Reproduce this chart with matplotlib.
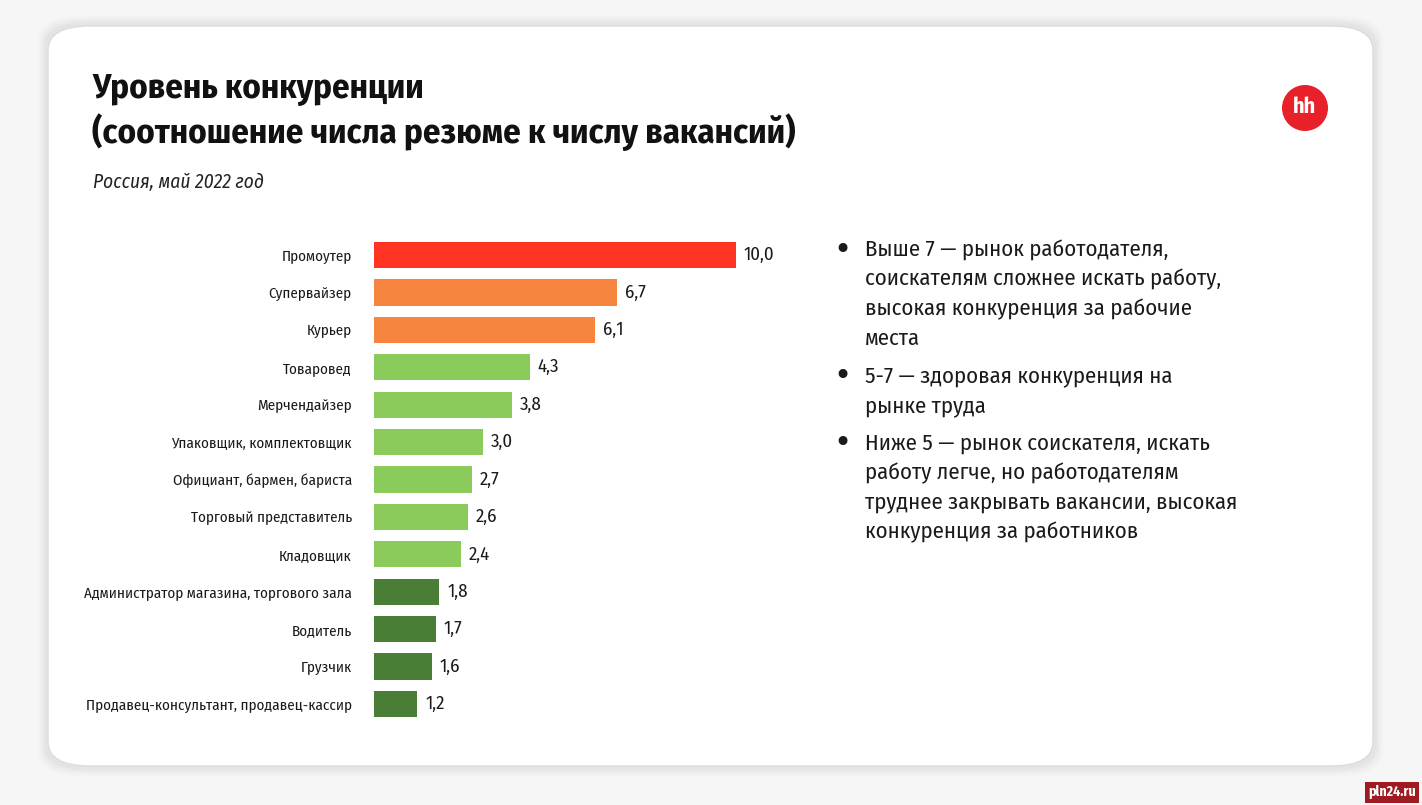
import matplotlib.pyplot as plt
from matplotlib.patches import FancyBboxPatch, Ellipse, Rectangle
from matplotlib import font_manager
from matplotlib.ft2font import FT2Font

# ----------------------------------------------
#    Уровень конкуренции, hh.ru, май 2022
# ----------------------------------------------

categories = ['Промоутер', 'Супервайзер', 'Курьер', 'Товаровед', 'Мерчендайзер',
              'Упаковщик, комплектовщик', 'Официант, бармен, бариста',
              'Торговый представитель', 'Кладовщик',
              'Администратор магазина, торгового зала', 'Водитель', 'Грузчик',
              'Продавец-консультант, продавец-кассир']
values = [10.0, 6.7, 6.1, 4.3, 3.8, 3.0, 2.7, 2.6, 2.4, 1.8, 1.7, 1.6, 1.2]
value_labels = ['10,0', '6,7', '6,1', '4,3', '3,8', '3,0', '2,7', '2,6', '2,4',
                '1,8', '1,7', '1,6', '1,2']
bar_colors = ['#ff3322', '#f5853f', '#f5853f', '#8bcb5b', '#8bcb5b', '#8bcb5b',
              '#8bcb5b', '#8bcb5b', '#8bcb5b', '#4a7e37', '#4a7e37', '#4a7e37',
              '#4a7e37']

bullets = [
    'Выше 7 — рынок работодателя,\nсоискателям сложнее искать работу,\nвысокая конкуренция за рабочие\nместа',
    '5-7 — здоровая конкуренция на\nрынке труда',
    'Ниже 5 — рынок соискателя, искать\nработу легче, но работодателям\nтруднее закрывать вакансии, высокая\nконкуренция за работников',
]


def has_cyrillic(path):
    try:
        return ord('Ж') in FT2Font(path).get_charmap()
    except Exception:
        return False


# узкий шрифт с кириллицей, иначе Roboto
narrow = None
for f in font_manager.fontManager.ttflist:
    if ('Narrow' in f.name or 'Condensed' in f.name) and has_cyrillic(f.fname):
        narrow = f.name
        break
base = narrow or 'Roboto'
plt.rcParams['font.family'] = [base, 'DejaVu Sans']

W, H = 1422, 805
fig = plt.figure(figsize=(W / 100, H / 100), dpi=100)
fig.patch.set_facecolor('#f6f6f6')
renderer = fig.canvas.get_renderer()


def fit(t, width_px, max_size):
    # подгоняем размер шрифта под ширину из картинки
    t.set_fontsize(max_size)
    w = t.get_window_extent(renderer).width
    if w > width_px:
        t.set_fontsize(max_size * width_px / w)
    return t


# card with soft shadow
for i, a in enumerate([0.012, 0.016, 0.02, 0.025]):
    g = 10 - 2 * i
    fig.patches.append(FancyBboxPatch(((48 - g) / W, 1 - (766 + g) / H),
                                      (1325 + 2 * g) / W, (740 + 2 * g) / H,
                                      boxstyle='round,pad=0,rounding_size=0.03',
                                      transform=fig.transFigure, facecolor='black',
                                      alpha=a, edgecolor='none', zorder=0))
fig.patches.append(FancyBboxPatch((48 / W, 1 - 766 / H), 1325 / W, 740 / H,
                                  boxstyle='round,pad=0,rounding_size=0.03',
                                  transform=fig.transFigure, facecolor='white',
                                  edgecolor='#dcdcdc', linewidth=1, zorder=1))

# titles
t1 = fig.text(92 / W, 1 - 89 / H, 'Уровень конкуренции', fontweight='bold',
              va='center', ha='left', color='#111111', zorder=3)
t2 = fig.text(92 / W, 1 - 132 / H, '(соотношение числа резюме к числу вакансий)',
              fontweight='bold', va='center', ha='left', color='#111111', zorder=3)
fit(t2, 705, 26)
t1.set_fontsize(t2.get_fontsize())
t3 = fig.text(93 / W, 1 - 182 / H, 'Россия, май 2022 год', fontstyle='italic',
              va='center', ha='left', color='#222222', zorder=3)
fit(t3, 186, 14)

# hh logo
fig.patches.append(Ellipse((1305 / W, 1 - 108 / H), 46 / W, 46 / H, transform=fig.transFigure,
                           facecolor='#e8202a', edgecolor='none', zorder=2))
fig.text(1305 / W, 1 - 107 / H, 'hh', fontsize=16, fontweight='bold', color='white',
         ha='center', va='center', zorder=3)

# bars
unit = (704 - 255) / 12
top = 255 - unit / 2
bottom = 704 + unit / 2
ax = fig.add_axes([374 / W, 1 - bottom / H, 362 / W, (bottom - top) / H])
ax.set_zorder(5)
ax.set_facecolor('none')
y = list(range(len(categories)))
ax.barh(y, values, height=0.7, color=bar_colors)
ax.set_xlim(0, 10)
ax.set_ylim(len(categories) - 0.5, -0.5)
ax.set_yticks(y)
ax.set_yticklabels(categories, fontsize=11, color='#1a1a1a')
ax.tick_params(axis='y', length=0, pad=16)
ax.set_xticks([])
for s in ax.spines.values():
    s.set_visible(False)
longest = ax.get_yticklabels()[9]
lab_size = fit(longest, 268, 12).get_fontsize()
for lab in ax.get_yticklabels():
    lab.set_fontsize(lab_size)
for yi, v, t in zip(y, values, value_labels):
    ax.text(v + 0.22, yi, t, va='center', ha='left', fontsize=13.5, color='#1a1a1a',
            clip_on=False)

# bullet notes
probe = fig.text(0, 0, 'труднее закрывать вакансии, высокая')
bsize = fit(probe, 371, 17).get_fontsize()
probe.remove()
line_h = 29.6
cur = 250
for b in bullets:
    fig.text(833 / W, 1 - cur / H, '•', fontsize=22, va='center', ha='left',
             color='#1a1a1a', zorder=3, family='DejaVu Sans')
    for ln in b.split('\n'):
        fig.text(865 / W, 1 - cur / H, ln, fontsize=bsize, va='center', ha='left',
                 color='#1a1a1a', zorder=3)
        cur += line_h
    cur += 8

# source watermark
fig.patches.append(Rectangle((1365 / W, 1 - 803 / H), 54 / W, 21 / H,
                             transform=fig.transFigure, facecolor='#9e1b22',
                             edgecolor='none', zorder=2))
wm = fig.text(1392 / W, 1 - 792 / H, 'pln24.ru', fontweight='bold', color='white',
              ha='center', va='center', zorder=3)
fit(wm, 48, 10)

fig.savefig('out.png', dpi=100, facecolor=fig.get_facecolor())
